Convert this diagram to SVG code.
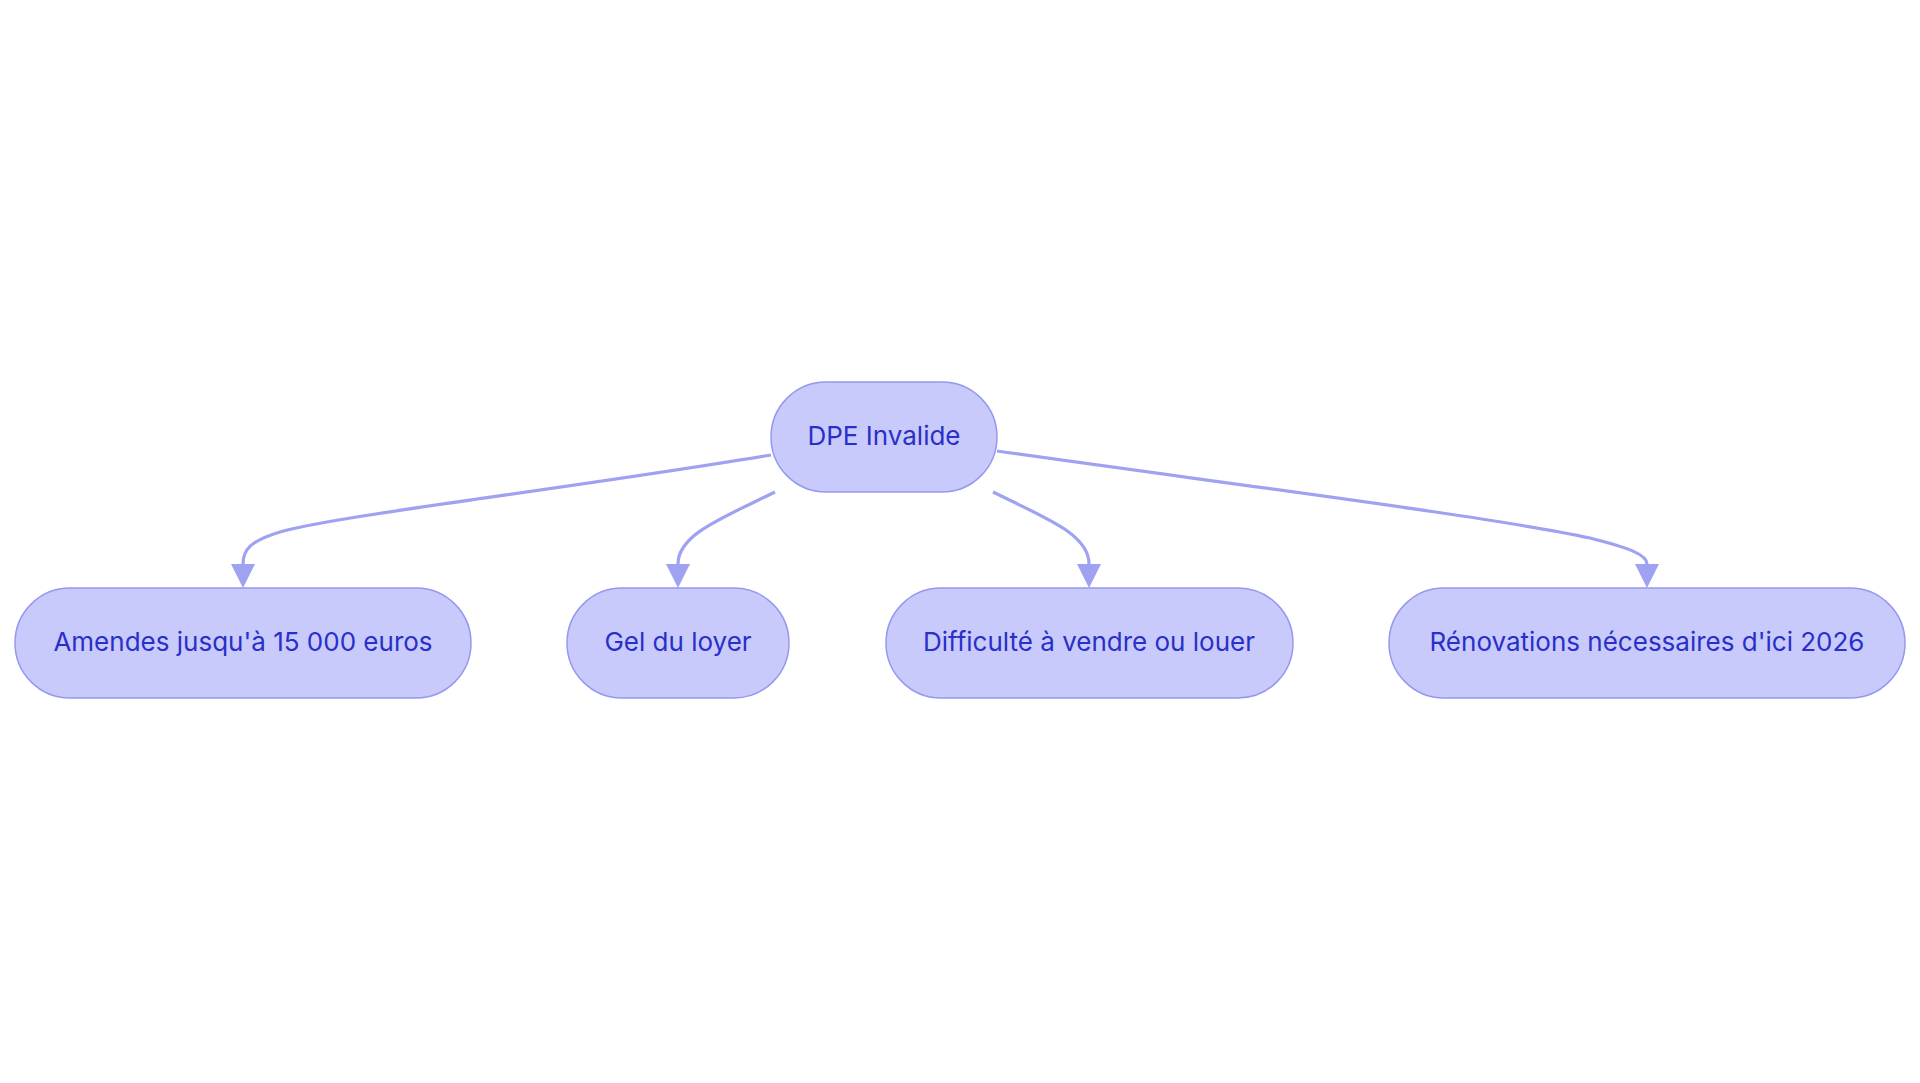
<svg xmlns="http://www.w3.org/2000/svg" width="1920" height="1083" viewBox="0 0 1920 1083">
  <style>
    .node rect { fill: #c8cafb; stroke: #9598ee; stroke-width: 1.5; }
    .node text { font-family: Inter, "Noto Sans", "Liberation Sans", sans-serif; font-size: 26px; fill: #2a2fc8; text-anchor: middle; }
    .edge { fill: none; stroke: #9ea2f1; stroke-width: 3.2; }
  </style>
  <defs>
    <marker id="arrow" markerUnits="userSpaceOnUse" markerWidth="24" markerHeight="24" viewBox="0 0 24 24" refX="0" refY="12" orient="auto">
      <path d="M0,0 L24,12 L0,24 z" fill="#9ea2f1"/>
    </marker>
  </defs>
  <rect width="1920" height="1083" fill="#ffffff"/>
  <g id="connectors">
    <path class="edge" d="M771,455 C 560,490 340,515 280,532 C 250,541 243,550 243,564" marker-end="url(#arrow)"/>
    <path class="edge" d="M775,492 C 720,519 678,535 678,564" marker-end="url(#arrow)"/>
    <path class="edge" d="M993,492 C 1050,520 1089,535 1089,564" marker-end="url(#arrow)"/>
    <path class="edge" d="M997,451 C 1230,484 1500,518 1590,538 C 1630,548 1647,555 1647,564" marker-end="url(#arrow)"/>
  </g>
  <g id="node-root" class="node">
    <rect x="771" y="382" width="226" height="110" rx="55" ry="55"/>
    <text x="884" y="445">DPE Invalide</text>
  </g>
  <g id="node-amendes" class="node">
    <rect x="15" y="588" width="456" height="110" rx="55" ry="55"/>
    <text x="243" y="651">Amendes jusqu'à 15 000 euros</text>
  </g>
  <g id="node-gel" class="node">
    <rect x="567" y="588" width="222" height="110" rx="55" ry="55"/>
    <text x="678" y="651">Gel du loyer</text>
  </g>
  <g id="node-difficulte" class="node">
    <rect x="886" y="588" width="407" height="110" rx="55" ry="55"/>
    <text x="1089" y="651">Difficulté à vendre ou louer</text>
  </g>
  <g id="node-renovations" class="node">
    <rect x="1389" y="588" width="516" height="110" rx="55" ry="55"/>
    <text x="1647" y="651">Rénovations nécessaires d'ici 2026</text>
  </g>
</svg>
